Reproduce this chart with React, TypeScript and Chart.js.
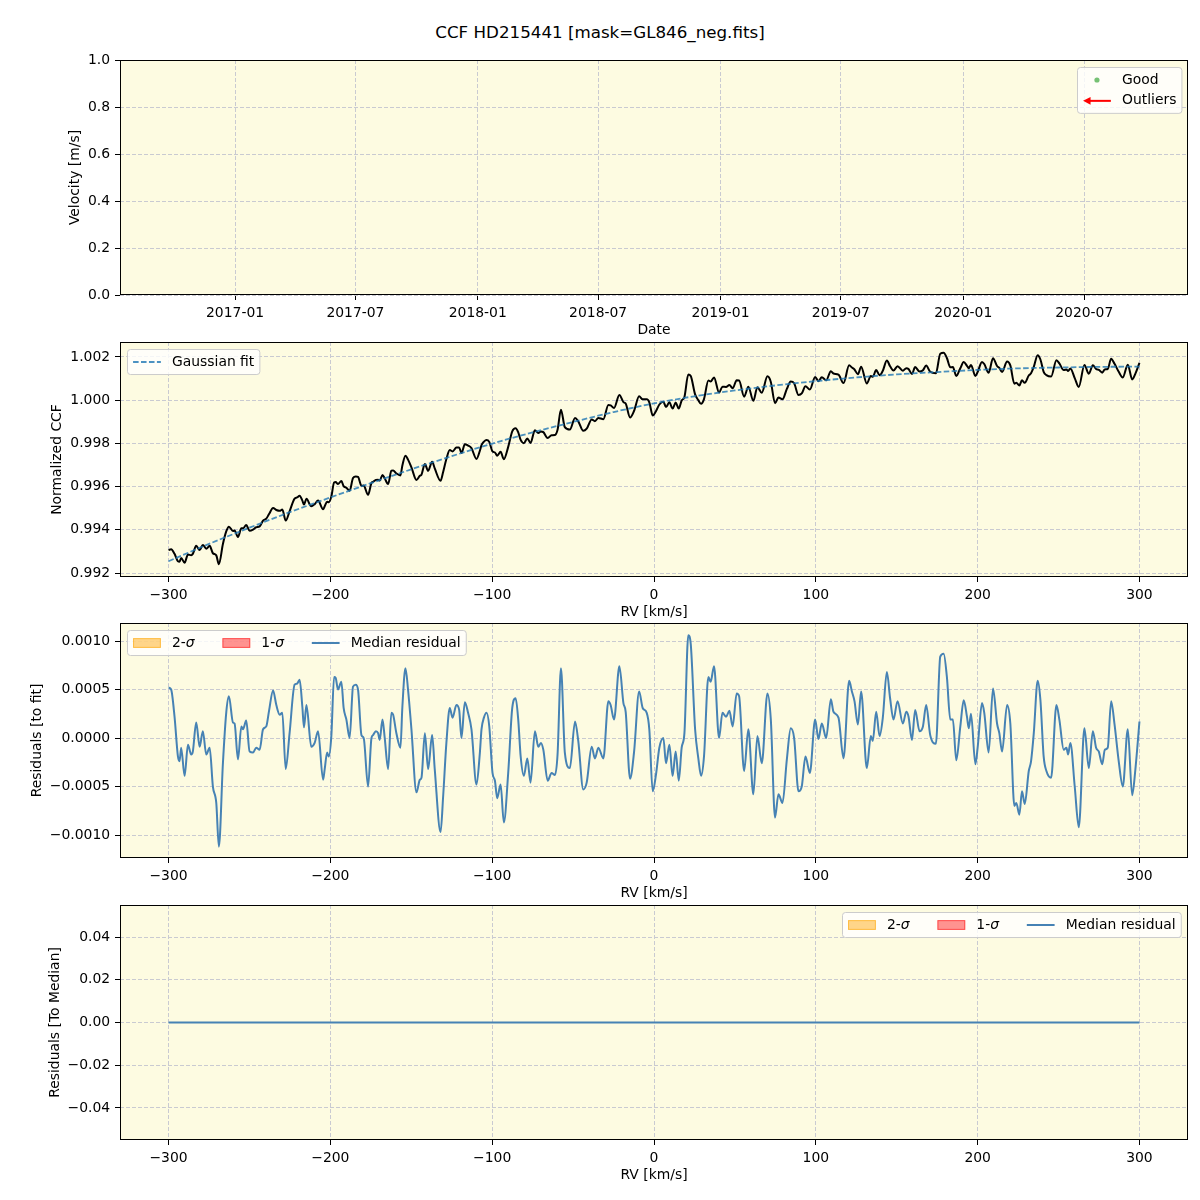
import React, { useEffect, useRef } from 'react';
import { Chart, registerables } from 'chart.js';

Chart.register(...registerables);

const FONT = 'DejaVu Sans';
const FS = 13.9;
const BG = '#fdfbe1';
const GRID = '#c9cad1';
const STEEL = '#4682b4';

// ---------- Panel 1 (velocity vs date, empty) ----------
const dateRange = ['2016-07-12', '2020-12-04'];
const dateTickLabels = ['2017-01', '2017-07', '2018-01', '2018-07', '2019-01', '2019-07', '2020-01', '2020-07'];
const velocityRange = [0, 1];
const velocityTicks = [0, 0.2, 0.4, 0.6, 0.8, 1.0];

// ---------- Shared RV axis ----------
const rvRange = [-330, 330];
const rvTicks = [-300, -200, -100, 0, 100, 200, 300];

// ---------- Panel 2 (CCF + Gaussian fit) ----------
const ccfRange = [0.99182, 1.00269];
const ccfTicks = [0.992, 0.994, 0.996, 0.998, 1.0, 1.002];
const fitRv = [-300, -275, -250, -225, -200, -175, -150, -125, -100, -75, -50, -25, 0, 25, 50, 75, 100, 125, 150, 175, 200, 225, 250, 275, 300];
const fitCcf = [0.99255, 0.99335, 0.9941, 0.99482, 0.9955, 0.99616, 0.9968, 0.99741, 0.99799, 0.99851, 0.99899, 0.99945, 0.99985, 1.00018, 1.00045, 1.00068, 1.00088, 1.00105, 1.00119, 1.0013, 1.0014, 1.00147, 1.00151, 1.00154, 1.00155];

const rv = [
  -300.0, -298.4, -296.3, -294.2, -293.2, -292.2, -290.1, -288.0, -286.0, -285.0,
  -282.9, -280.8, -278.8, -276.7, -274.6, -272.6, -270.5, -268.9, -266.4, -264.3,
  -262.7, -260.2, -259.2, -257.1, -255.0, -254.0, -252.0, -249.9, -247.8, -245.8,
  -243.7, -241.6, -239.6, -237.9, -235.4, -233.4, -231.3, -229.7, -227.6, -225.2,
  -222.1, -220.6, -219.0, -217.3, -216.3, -214.8, -211.8, -209.7, -207.6, -204.5,
  -203.5, -202.0, -201.0, -199.4, -197.7, -196.7, -195.3, -193.2, -191.8, -190.1,
  -188.1, -186.0, -184.3, -182.9, -180.8, -179.4, -176.7, -174.6, -173.6, -171.9,
  -170.5, -169.5, -167.8, -166.4, -164.3, -162.3, -161.2, -159.2, -156.7, -155.5,
  -153.6, -152.0, -149.9, -146.8, -144.7, -143.7, -141.6, -139.6, -137.1, -135.5,
  -131.9, -130.3, -128.3, -126.2, -124.5, -122.1, -120.4, -119.0, -116.9, -114.9,
  -112.8, -109.7, -107.6, -106.6, -105.1, -103.5, -101.8, -99.8, -98.3, -96.9,
  -94.8, -92.8, -90.1, -87.6, -85.5, -83.9, -82.4, -80.4, -78.3, -76.3,
  -73.6, -71.5, -69.9, -68.4, -65.7, -63.3, -61.2, -59.6, -57.5, -55.1,
  -52.0, -48.8, -46.8, -43.7, -41.6, -38.5, -36.5, -34.4, -31.3, -28.2,
  -26.8, -24.7, -21.4, -18.9, -17.5, -14.8, -12.3, -9.2, -7.0, -4.5,
  -2.9, -0.8, 1.2, 3.3, 5.8, 7.4, 9.5, 11.5, 13.4, 15.3,
  17.1, 18.8, 21.2, 22.7, 25.4, 27.4, 29.1, 30.9, 33.6, 35.0,
  37.1, 40.2, 42.3, 44.5, 46.6, 48.6, 51.1, 52.6, 55.7, 58.3,
  61.4, 63.9, 66.6, 70.1, 72.2, 74.8, 76.9, 79.4, 82.1, 84.5,
  86.6, 89.3, 91.3, 93.6, 96.3, 99.6, 101.6, 103.7, 106.4, 109.3,
  110.9, 114.0, 117.1, 120.6, 122.3, 123.9, 126.0, 128.0, 131.5, 134.0,
  135.2, 137.3, 139.4, 141.4, 143.9, 145.9, 148.0, 150.5, 153.8, 155.9,
  157.3, 159.4, 161.4, 164.1, 166.2, 168.2, 170.7, 174.2, 176.9, 179.0,
  181.0, 183.1, 184.7, 186.8, 189.3, 191.4, 193.4, 194.5, 195.9, 198.6,
  200.0, 202.7, 204.1, 206.8, 209.5, 212.0, 213.4, 215.1, 218.2, 220.2,
  222.7, 223.9, 225.8, 227.4, 229.1, 231.6, 233.0, 234.7, 237.1, 238.8,
  240.8, 242.5, 245.4, 248.7, 250.5, 253.2, 254.9, 255.9, 257.3, 260.0,
  262.5, 266.0, 268.7, 271.2, 273.2, 274.9, 277.0, 278.6, 280.4, 282.5,
  284.6, 287.2, 289.7, 292.8, 295.5, 297.5, 300.0,
];

const ccf = [
  0.99307, 0.9931, 0.99289, 0.99255, 0.99253, 0.9927, 0.99248, 0.99286, 0.99283, 0.99289,
  0.99326, 0.99307, 0.9933, 0.99313, 0.99326, 0.99292, 0.99282, 0.99241, 0.99335, 0.99394,
  0.99415, 0.99395, 0.99397, 0.99367, 0.99407, 0.99407, 0.99422, 0.99396, 0.99401, 0.99412,
  0.99416, 0.99443, 0.99452, 0.99473, 0.99501, 0.99492, 0.99488, 0.99494, 0.99443, 0.99486,
  0.99545, 0.9955, 0.99558, 0.99535, 0.99517, 0.99544, 0.99509, 0.99519, 0.99536, 0.99495,
  0.99509, 0.9953, 0.99528, 0.99554, 0.99619, 0.99621, 0.99612, 0.99626, 0.99602, 0.99595,
  0.99581, 0.9964, 0.99647, 0.99645, 0.99604, 0.99605, 0.99562, 0.99617, 0.99622, 0.99631,
  0.99632, 0.99628, 0.99654, 0.99638, 0.99612, 0.99674, 0.99675, 0.99661, 0.99652, 0.99698,
  0.99743, 0.99725, 0.99689, 0.99631, 0.9965, 0.99655, 0.99705, 0.99673, 0.99715, 0.99684,
  0.99627, 0.99668, 0.99728, 0.99769, 0.99763, 0.99781, 0.99781, 0.99755, 0.99796, 0.9979,
  0.99778, 0.99728, 0.99766, 0.99792, 0.99808, 0.99816, 0.99807, 0.99763, 0.99758, 0.99743,
  0.99761, 0.99727, 0.99784, 0.99856, 0.9987, 0.99851, 0.99816, 0.99801, 0.99823, 0.99802,
  0.99861, 0.99848, 0.99855, 0.99852, 0.99825, 0.99838, 0.99839, 0.99863, 0.99956, 0.99875,
  0.99864, 0.99918, 0.99902, 0.99858, 0.99868, 0.99911, 0.99903, 0.99918, 0.99912, 0.99978,
  0.99976, 0.99964, 1.00024, 0.99991, 0.99984, 0.9992, 0.99951, 1.00018, 1.00004, 1.00004,
  0.9999, 0.99929, 0.99949, 0.9998, 0.99993, 0.99968, 0.9999, 0.99961, 0.99989, 0.99961,
  0.99998, 1.00014, 1.00119, 1.00112, 1.00027, 1.0, 0.99983, 1.00005, 1.00091, 1.00086,
  1.00105, 1.00035, 1.00062, 1.00061, 1.0007, 1.00055, 1.00092, 1.00091, 1.00016, 1.00062,
  0.99997, 1.0006, 1.00034, 1.0011, 1.00084, 0.99986, 1.00012, 1.00004, 1.00052, 1.00086,
  1.00078, 1.00024, 1.00031, 1.00064, 1.00049, 1.00107, 1.00088, 1.00106, 1.00092, 1.00134,
  1.00123, 1.00118, 1.00079, 1.00161, 1.00151, 1.00142, 1.0012, 1.00155, 1.00077, 1.00112,
  1.00108, 1.00139, 1.00115, 1.00136, 1.00183, 1.00157, 1.00137, 1.00157, 1.00136, 1.00148,
  1.00144, 1.00121, 1.00153, 1.00132, 1.00138, 1.0016, 1.00131, 1.00124, 1.00215, 1.00219,
  1.00195, 1.00152, 1.00153, 1.00112, 1.00148, 1.00176, 1.00159, 1.00148, 1.00163, 1.00112,
  1.0013, 1.00177, 1.00167, 1.00127, 1.00194, 1.00158, 1.00149, 1.0013, 1.00179, 1.00161,
  1.00076, 1.0008, 1.00068, 1.00092, 1.0008, 1.00114, 1.00124, 1.00154, 1.00208, 1.00188,
  1.00131, 1.00116, 1.00109, 1.00185, 1.0017, 1.00139, 1.00142, 1.00135, 1.00147, 1.00102,
  1.00061, 1.00163, 1.00122, 1.00161, 1.00144, 1.0014, 1.00127, 1.00142, 1.00144, 1.00192,
  1.00168, 1.00131, 1.00105, 1.00164, 1.00096, 1.00123, 1.00172,
];

// ---------- Panel 3 (residuals to fit) ----------
const residRange = [-0.001237, 0.001186];
const residTicks = [-0.001, -0.0005, 0, 0.0005, 0.001];
const residual = [
  0.00052, 0.0005, 0.00022, -0.00019, -0.00024, -0.0001, -0.00039, -0.00007, -0.00017, -0.00014,
  0.00016, -0.00009, 0.00007, -0.00017, -0.0001, -0.0005, -0.00067, -0.00112, -0.00026, 0.00027,
  0.00043, 0.00016, 0.00015, -0.00022, 0.00012, 0.00009, 0.00018, -0.00014, -0.00015, -0.0001,
  -0.00012, 0.00009, 0.00012, 0.00028, 0.00049, 0.00034, 0.00024, 0.00026, -0.00032, 0.00005,
  0.00055, 0.00056, 0.0006, 0.00032, 0.00011, 0.00034, -0.00009, -0.00005, 0.00007, -0.00043,
  -0.00032, -0.00015, -0.00019, 0.00002, 0.00063, 0.00062, 0.0005, 0.00058, 0.00031, 0.00019,
  0.0, 0.00053, 0.00055, 0.0005, 0.00003, 0.0, -0.0005, 0.0, 0.00003, 0.00007,
  0.00005, -0.00002, 0.00019, 0.0, -0.00032, 0.00026, 0.00024, 0.00005, -0.0001, 0.00032,
  0.00072, 0.0005, 0.00009, -0.00056, -0.00043, -0.00041, 0.00005, -0.00032, 0.00003, -0.00032,
  -0.00097, -0.0006, -0.00005, 0.00031, 0.00021, 0.00034, 0.00029, 0.0, 0.00037, 0.00026,
  0.00009, -0.00048, -0.00015, 0.00009, 0.00021, 0.00026, 0.00012, -0.00036, -0.00044, -0.00062,
  -0.00048, -0.00087, -0.00036, 0.00031, 0.00041, 0.00019, -0.00019, -0.00039, -0.00021, -0.00046,
  0.00007, -0.00009, -0.00005, -0.00012, -0.00044, -0.00036, -0.00038, -0.00017, 0.00072, -0.00015,
  -0.00031, 0.00017, -0.00003, -0.00053, -0.00046, -0.00009, -0.00021, -0.0001, -0.00021, 0.00038,
  0.00034, 0.00019, 0.00074, 0.00036, 0.00027, -0.00042, -0.00014, 0.00048, 0.00031, 0.00026,
  0.00009, -0.00055, -0.00038, -0.0001, 0.0, -0.00026, -0.00007, -0.00039, -0.00014, -0.00044,
  -0.0001, 0.00005, 0.00106, 0.00097, 0.00009, -0.00021, -0.00039, -0.00019, 0.00063, 0.00058,
  0.00074, 0.0, 0.00026, 0.00022, 0.00028, 0.00012, 0.00046, 0.00043, -0.00034, 0.00009,
  -0.00058, 0.00002, -0.00026, 0.00046, 0.00019, -0.00082, -0.00058, -0.00067, -0.00022, 0.0001,
  0.0, -0.00055, -0.0005, -0.00019, -0.00036, 0.00019, -0.00001, 0.00015, 0.0, 0.0004,
  0.00027, 0.00021, -0.00021, 0.00059, 0.00048, 0.00038, 0.00014, 0.00048, -0.00031, 0.00002,
  -0.00003, 0.00027, 0.00002, 0.00021, 0.00068, 0.00041, 0.00019, 0.00038, 0.00015, 0.00027,
  0.00022, -0.00002, 0.00029, 0.00007, 0.00012, 0.00034, 0.00003, -0.00006, 0.00084, 0.00087,
  0.00063, 0.00019, 0.00019, -0.00023, 0.00012, 0.00039, 0.00022, 0.0001, 0.00025, -0.00027,
  -0.0001, 0.00036, 0.00026, -0.00015, 0.00051, 0.00015, 0.00005, -0.00014, 0.00034, 0.00015,
  -0.0007, -0.00067, -0.00079, -0.00055, -0.00068, -0.00034, -0.00024, 0.00005, 0.00059, 0.00039,
  -0.00019, -0.00034, -0.00041, 0.00034, 0.00019, -0.00012, -0.0001, -0.00017, -0.00005, -0.0005,
  -0.00092, 0.0001, -0.00031, 0.00007, -0.0001, -0.00014, -0.00027, -0.00012, -0.0001, 0.00038,
  0.00014, -0.00024, -0.0005, 0.00009, -0.00059, -0.00032, 0.00017,
];

// ---------- Panel 4 (residuals to median) ----------
const medianRange = [-0.055, 0.055];
const medianTicks = [-0.04, -0.02, 0, 0.02, 0.04];
const medianRv = [-300, 300];
const medianResidual = [0, 0];

// ---------- helpers ----------
const parseDay = (s: string) => Date.UTC(+s.slice(0, 4), +s.slice(5, 7) - 1, s.length > 7 ? +s.slice(8, 10) : 1);
const dateTickValues = dateTickLabels.map(parseDay);

const fmtFixed = (d: number) => (v: number) => {
  const s = Math.abs(v).toFixed(d);
  return (v < 0 && Math.abs(v) > 1e-12 ? '\u2212' : '') + s;
};

const pts = (xs: number[], ys: number[]) => xs.map((x, i) => ({ x, y: ys[i] }));

const tickFont = { family: FONT, size: FS };
const titleFont = { family: FONT, size: FS, lineHeight: 1 };

function xScale(range: number[], ticks: number[], fmt: (v: number, i: number) => string, title: string, height: number, titleOffset: number) {
  return {
    type: 'linear',
    position: 'bottom',
    min: range[0],
    max: range[1],
    afterBuildTicks: (s: any) => { s.ticks = ticks.map((v) => ({ value: v })); },
    afterFit: (s: any) => { s.height = height; },
    ticks: { callback: (v: number, i: number) => fmt(v, i), font: tickFont, color: '#000', padding: 4.9, maxRotation: 0, autoSkip: false },
    grid: { color: GRID, lineWidth: 1, tickLength: 5, tickColor: '#000', tickWidth: 1, drawTicks: true },
    border: { display: false, dash: [4, 2] },
    title: { display: true, text: title, font: titleFont, color: '#000', padding: { top: 0, bottom: titleOffset - FS / 2 } },
  };
}

function yScale(range: number[], ticks: number[], fmt: (v: number) => string, title: string, titleX: number) {
  return {
    type: 'linear',
    position: 'left',
    min: range[0],
    max: range[1],
    afterBuildTicks: (s: any) => { s.ticks = ticks.map((v) => ({ value: v })); },
    afterFit: (s: any) => { s.width = 120; },
    ticks: { callback: (v: number) => fmt(v), font: tickFont, color: '#000', padding: 4.9, autoSkip: false },
    grid: { color: GRID, lineWidth: 1, tickLength: 5, tickColor: '#000', tickWidth: 1, drawTicks: true },
    border: { display: false, dash: [4, 2] },
    title: { display: true, text: title, font: titleFont, color: '#000', padding: { top: titleX - FS / 2, bottom: 0 } },
  };
}

const bgPlugin = {
  id: 'bgfill',
  beforeDraw(chart: any) {
    const { ctx, chartArea: ca } = chart;
    ctx.save();
    ctx.fillStyle = BG;
    ctx.fillRect(ca.left, ca.top, ca.right - ca.left, ca.bottom - ca.top);
    ctx.restore();
  },
};

const spinePlugin = {
  id: 'spines',
  afterDatasetsDraw(chart: any) {
    const { ctx, chartArea: ca } = chart;
    ctx.save();
    ctx.strokeStyle = '#000';
    ctx.lineWidth = 1;
    ctx.strokeRect(ca.left + 0.5, ca.top + 0.5, ca.right - ca.left - 1, ca.bottom - ca.top - 1);
    ctx.restore();
  },
};

type LItem = { label: string; sigma?: boolean; kind: string; color: string; edge?: string };

function drawHandle(ctx: CanvasRenderingContext2D, it: LItem, x0: number, cy: number, hl: number) {
  ctx.save();
  if (it.kind === 'marker') {
    ctx.fillStyle = it.color;
    ctx.beginPath();
    ctx.arc(x0 + hl / 2, cy, 2.6, 0, Math.PI * 2);
    ctx.fill();
  } else if (it.kind === 'arrow') {
    ctx.strokeStyle = it.color;
    ctx.fillStyle = it.color;
    ctx.lineWidth = 2;
    ctx.beginPath();
    ctx.moveTo(x0 + hl, cy);
    ctx.lineTo(x0 + 5, cy);
    ctx.stroke();
    ctx.beginPath();
    ctx.moveTo(x0, cy);
    ctx.lineTo(x0 + 7.5, cy - 3.8);
    ctx.lineTo(x0 + 7.5, cy + 3.8);
    ctx.closePath();
    ctx.fill();
  } else if (it.kind === 'dash') {
    ctx.strokeStyle = it.color;
    ctx.lineWidth = 1.8;
    ctx.setLineDash([5.55, 2.4]);
    ctx.beginPath();
    ctx.moveTo(x0, cy);
    ctx.lineTo(x0 + hl, cy);
    ctx.stroke();
  } else if (it.kind === 'patch') {
    const h = 0.7 * FS;
    ctx.fillStyle = it.color;
    ctx.fillRect(x0, cy - h / 2, hl, h);
    ctx.strokeStyle = it.edge || it.color;
    ctx.lineWidth = 1;
    ctx.strokeRect(x0 + 0.5, cy - h / 2 + 0.5, hl - 1, h - 1);
  } else if (it.kind === 'line') {
    ctx.strokeStyle = it.color;
    ctx.lineWidth = 2;
    ctx.beginPath();
    ctx.moveTo(x0, cy);
    ctx.lineTo(x0 + hl, cy);
    ctx.stroke();
  }
  ctx.restore();
}

function makeLegend(loc: 'left' | 'right', ncol: number, items: LItem[]) {
  return {
    id: 'mplLegend',
    afterDraw(chart: any) {
      const ctx = chart.ctx as CanvasRenderingContext2D;
      const ca = chart.chartArea;
      const f = `${FS}px "${FONT}"`;
      const fi = `italic ${FS}px "${FONT}"`;
      const pad = 0.4 * FS, hl = 2 * FS, htp = 0.8 * FS, cs = 2 * FS, ls = 0.5 * FS, rh = FS, bap = 0.5 * FS;
      ctx.save();
      const tw = items.map((it) => {
        ctx.font = f;
        let w = ctx.measureText(it.label).width;
        if (it.sigma) { ctx.font = fi; w += ctx.measureText('\u03c3').width; }
        return w;
      });
      const nrow = Math.ceil(items.length / ncol);
      const colW: number[] = [];
      for (let c = 0; c < ncol; c++) {
        let m = 0;
        for (let r = 0; r < nrow; r++) { const i = c * nrow + r; if (i < items.length) m = Math.max(m, tw[i]); }
        colW.push(hl + htp + m);
      }
      const W = 2 * pad + colW.reduce((a, b) => a + b, 0) + (ncol - 1) * cs;
      const H = 2 * pad + nrow * rh + (nrow - 1) * ls;
      const bx = Math.round(loc === 'right' ? ca.right - bap - W : ca.left + bap) + 0.5;
      const by = Math.round(ca.top + bap) + 0.5;
      ctx.beginPath();
      (ctx as any).roundRect(bx, by, W, H, 3);
      ctx.fillStyle = 'rgba(255,255,255,0.8)';
      ctx.fill();
      ctx.strokeStyle = '#cccccc';
      ctx.lineWidth = 1;
      ctx.stroke();
      items.forEach((it, i) => {
        const c = Math.floor(i / nrow), r = i % nrow;
        let x0 = bx + pad;
        for (let k = 0; k < c; k++) x0 += colW[k] + cs;
        const cy = by + pad + r * (rh + ls) + rh / 2;
        drawHandle(ctx, it, x0, cy, hl);
        ctx.fillStyle = '#000';
        ctx.textBaseline = 'middle';
        ctx.textAlign = 'left';
        ctx.font = f;
        const tx = x0 + hl + htp;
        ctx.fillText(it.label, tx, cy);
        if (it.sigma) {
          const w = ctx.measureText(it.label).width;
          ctx.font = fi;
          ctx.fillText('\u03c3', tx + w, cy);
        }
      });
      ctx.restore();
    },
  };
}

const sigmaItems: LItem[] = [
  { label: '2-', sigma: true, kind: 'patch', color: 'rgba(255,165,0,0.45)', edge: 'rgba(255,165,0,0.55)' },
  { label: '1-', sigma: true, kind: 'patch', color: 'rgba(255,0,0,0.42)', edge: 'rgba(255,0,0,0.5)' },
  { label: 'Median residual', kind: 'line', color: STEEL },
];

const baseOptions = (padTop: number) => ({
  animation: false,
  responsive: false,
  maintainAspectRatio: false,
  devicePixelRatio: 1,
  layout: { padding: { top: padTop, right: 12, left: 0, bottom: 0 } },
  plugins: { legend: { display: false }, tooltip: { enabled: false } },
  elements: { point: { radius: 0 } },
});

const FIT_COLOR = 'rgba(31,119,180,0.8)';

function config1() {
  return {
    type: 'line',
    data: { datasets: [] },
    options: {
      ...baseOptions(20),
      scales: {
        x: xScale([parseDay(dateRange[0]), parseDay(dateRange[1])], dateTickValues, (_v, i) => dateTickLabels[i], 'Date', 43, 8),
        y: yScale(velocityRange, velocityTicks, fmtFixed(1), 'Velocity [m/s]', 75),
      },
    },
    plugins: [bgPlugin, spinePlugin, makeLegend('right', 1, [
      { label: 'Good', kind: 'marker', color: 'rgba(44,160,44,0.65)' },
      { label: 'Outliers', kind: 'arrow', color: '#ff0000' },
    ])],
  };
}

function config2() {
  return {
    type: 'line',
    data: {
      datasets: [
        { data: pts(fitRv, fitCcf), borderColor: FIT_COLOR, borderWidth: 1.8, borderDash: [5.55, 2.4], pointRadius: 0, cubicInterpolationMode: 'monotone' },
        { data: pts(rv, ccf), borderColor: '#000000', borderWidth: 2, pointRadius: 0, cubicInterpolationMode: 'monotone' },
      ],
    },
    options: {
      ...baseOptions(20),
      scales: {
        x: xScale(rvRange, rvTicks, (v) => fmtFixed(0)(v), 'RV [km/s]', 43, 8),
        y: yScale(ccfRange, ccfTicks, fmtFixed(3), 'Normalized CCF', 57),
      },
    },
    plugins: [bgPlugin, spinePlugin, makeLegend('left', 1, [
      { label: 'Gaussian fit', kind: 'dash', color: FIT_COLOR },
    ])],
  };
}

function config3() {
  return {
    type: 'line',
    data: {
      datasets: [
        { data: pts(rv, residual), borderColor: STEEL, borderWidth: 2, pointRadius: 0, cubicInterpolationMode: 'monotone' },
      ],
    },
    options: {
      ...baseOptions(20),
      scales: {
        x: xScale(rvRange, rvTicks, (v) => fmtFixed(0)(v), 'RV [km/s]', 44, 9),
        y: yScale(residRange, residTicks, fmtFixed(4), 'Residuals [to fit]', 37),
      },
    },
    plugins: [bgPlugin, spinePlugin, makeLegend('left', 3, sigmaItems)],
  };
}

function config4() {
  return {
    type: 'line',
    data: {
      datasets: [
        { data: pts(medianRv, medianResidual), borderColor: STEEL, borderWidth: 1.8, pointRadius: 0 },
      ],
    },
    options: {
      ...baseOptions(20),
      scales: {
        x: xScale(rvRange, rvTicks, (v) => fmtFixed(0)(v), 'RV [km/s]', 60, 25),
        y: yScale(medianRange, medianTicks, fmtFixed(2), 'Residuals [To Median]', 55),
      },
    },
    plugins: [bgPlugin, spinePlugin, makeLegend('right', 3, sigmaItems)],
  };
}

function ChartCanvas({ top, height, make }: { top: number; height: number; make: () => any }) {
  const ref = useRef<HTMLCanvasElement | null>(null);
  useEffect(() => {
    if (!ref.current) return;
    const chart = new Chart(ref.current, make());
    return () => chart.destroy();
  }, []);
  return (
    <canvas
      ref={ref}
      width={1200}
      height={height}
      style={{ position: 'absolute', left: 0, top, width: 1200, height, display: 'block' }}
    />
  );
}

export default function App() {
  return (
    <div style={{ position: 'absolute', left: 0, top: 0, width: 1200, height: 1200, background: '#ffffff', overflow: 'hidden' }}>
      <div
        style={{
          position: 'absolute', left: 0, top: 21, width: 1200, height: 22, lineHeight: '22px',
          textAlign: 'center', fontFamily: FONT, fontSize: 16.7, color: '#000',
        }}
      >
        CCF HD215441 [mask=GL846_neg.fits]
      </div>
      <ChartCanvas top={40} height={298} make={config1} />
      <ChartCanvas top={322} height={298} make={config2} />
      <ChartCanvas top={603} height={299} make={config3} />
      <ChartCanvas top={885} height={315} make={config4} />
    </div>
  );
}
